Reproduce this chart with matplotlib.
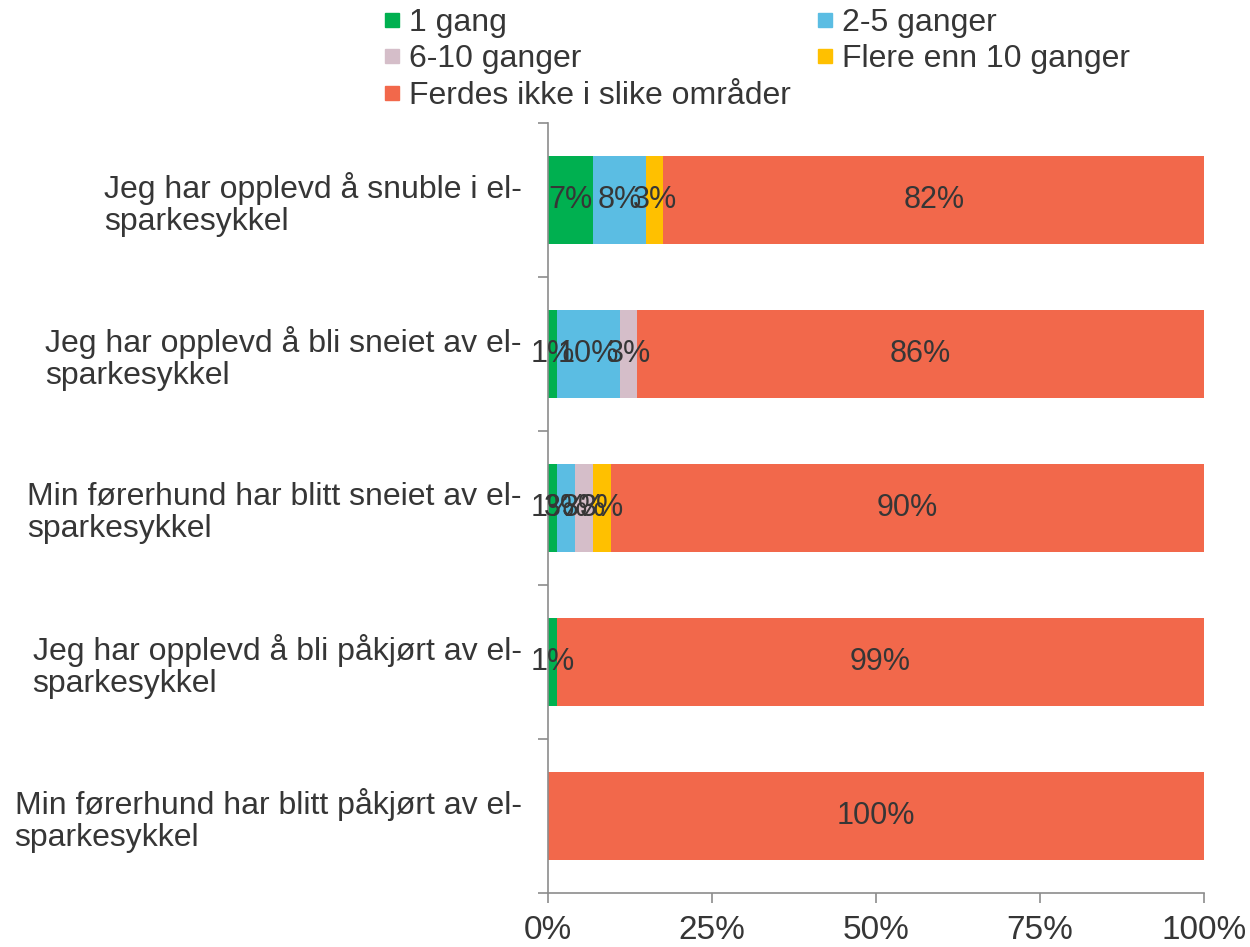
import matplotlib
matplotlib.use("Agg")
import matplotlib.pyplot as plt
from matplotlib.lines import Line2D

plt.rcParams["font.family"] = ["Liberation Sans", "DejaVu Sans"]

# data
categories = [
    "Jeg har opplevd å snuble i el-\nsparkesykkel",
    "Jeg har opplevd å bli sneiet av el-\nsparkesykkel",
    "Min førerhund har blitt sneiet av el-\nsparkesykkel",
    "Jeg har opplevd å bli påkjørt av el-\nsparkesykkel",
    "Min førerhund har blitt påkjørt av el-\nsparkesykkel",
]
series = ["1 gang", "2-5 ganger", "6-10 ganger", "Flere enn 10 ganger",
          "Ferdes ikke i slike områder"]
gang_1 = [6.8, 1.4, 1.4, 1.4, 0.0]
gang_2_5 = [8.2, 9.6, 2.7, 0.0, 0.0]
gang_6_10 = [0.0, 2.6, 2.7, 0.0, 0.0]
gang_10plus = [2.6, 0.0, 2.8, 0.0, 0.0]
ferdes_ikke = [82.4, 86.4, 90.4, 98.6, 100.0]
xticks = [0, 25, 50, 75, 100]

COLORS = ["#00B050", "#5BBDE3", "#D5BEC9", "#FFC000", "#F2684B"]
TEXT = "#363636"
AXIS = "#8C8C8C"
FS = 23

values = [gang_1, gang_2_5, gang_6_10, gang_10plus, ferdes_ikke]

fig = plt.figure(figsize=(12.5, 9.47), dpi=100)
ax = fig.add_axes([0.4384, 0.057, 0.5248, 0.813])

y = list(range(len(categories)))
left = [0.0] * len(categories)
for name, vals, col in zip(series, values, COLORS):
    bars = ax.barh(y, vals, left=left, color=col, height=0.57, label=name)
    for b, v in zip(bars, vals):
        if v > 0:
            ax.text(b.get_x() + b.get_width() / 2, b.get_y() + b.get_height() / 2,
                    f"{round(v)}%", ha="center", va="center", fontsize=22, color=TEXT)
    left = [l + v for l, v in zip(left, vals)]

ax.set_xlim(0, 100)
ax.set_ylim(len(categories) - 0.5, -0.5)
ax.set_xticks(xticks)
ax.set_xticklabels([f"{t}%" for t in xticks], fontsize=24, color=TEXT)

# y ticks at category boundaries, labels at centres
ax.set_yticks([i - 0.5 for i in range(len(categories) + 1)])
ax.set_yticklabels([])
ax.set_yticks(y, minor=True)
ax.set_yticklabels(categories, minor=True, fontsize=FS, color=TEXT, ma="left",
                   linespacing=1.1)
ax.tick_params(axis="y", which="minor", length=0, pad=19)
ax.tick_params(axis="y", which="major", length=7, color=AXIS, width=1.2)
ax.tick_params(axis="x", length=7, color=AXIS, width=1.2, pad=9)

for s in ["top", "right"]:
    ax.spines[s].set_visible(False)
for s in ["left", "bottom"]:
    ax.spines[s].set_color(AXIS)
    ax.spines[s].set_linewidth(1.2)

# legend, row-wise order
handles = [Line2D([], [], marker="s", linestyle="none", markersize=10.5,
                  markerfacecolor=c, markeredgecolor=c) for c in COLORS]
order = [0, 2, 4, 1, 3]
fig.legend([handles[i] for i in order], [series[i] for i in order],
           loc="upper left", bbox_to_anchor=(0.284, 1.022), ncol=2, frameon=False,
           fontsize=FS, handlelength=0.5, handletextpad=0.3, labelspacing=0.2,
           columnspacing=0.8, labelcolor=TEXT)

fig.savefig("out.png", dpi=100, facecolor="white")
